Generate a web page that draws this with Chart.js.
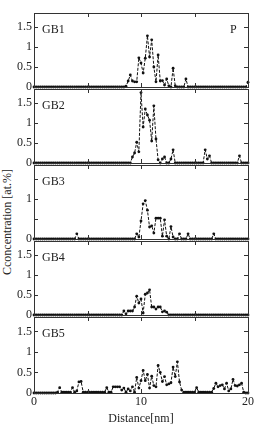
<!DOCTYPE html>
<html>
<head>
<meta charset="utf-8">
<script src="https://cdn.jsdelivr.net/npm/chart.js@4"></script>
<style>
  body { margin: 0; background: #fff; }
  #wrap { position: relative; width: 256px; height: 426px; overflow: hidden; }
  canvas { position: absolute; left: 0; }
  #ytitle {
    position: absolute; left: 7px; top: 222px;
    transform: translate(-50%, -50%) rotate(-90deg);
    font: 12px "Liberation Serif", serif; color: #222; white-space: nowrap;
  }
</style>
</head>
<body>
<div id="wrap">
  <div id="ytitle">Cconcentration [at.%]</div>
</div>
<script>
// DATA (distance step 0.2 nm, 0 .. 20 nm)
const step = 0.2;
const panelNames = ["GB1", "GB2", "GB3", "GB4", "GB5"];
const yTicksPerPanel = [
  [0, 0.5, 1, 1.5],
  [0, 0.5, 1, 1.5],
  [0, 1],
  [0, 0.5, 1, 1.5],
  [0, 0.5, 1, 1.5],
];
const xTickLabels = [0, 10, 20];

const gb1 = [
  0, 0, 0, 0, 0, 0, 0, 0, 0, 0, 0, 0, 0, 0, 0, 0, 0, 0, 0, 0,
  0, 0, 0, 0, 0, 0, 0, 0, 0, 0, 0, 0, 0, 0, 0, 0, 0, 0, 0, 0,
  0, 0, 0, 0.02, 0.15, 0.3, 0.15, 0.13, 0.13, 0.73,
  0.6, 0.35, 0.72, 1.28, 0.75, 1.18, 0.5, 0.13, 0.8, 0.15,
  0.16, 0.05, 0.2, 0.03, 0, 0.47, 0.03, 0, 0, 0,
  0, 0.2, 0, 0, 0, 0, 0, 0, 0, 0,
  0, 0, 0, 0, 0, 0, 0, 0, 0, 0, 0, 0, 0, 0, 0, 0, 0, 0, 0, 0,
  0.12,
];
const gb2 = [
  0, 0, 0, 0, 0, 0, 0, 0, 0, 0, 0, 0, 0, 0, 0, 0, 0, 0, 0, 0,
  0, 0, 0, 0, 0, 0, 0, 0, 0, 0, 0, 0, 0, 0, 0, 0, 0, 0, 0, 0,
  0, 0, 0, 0, 0, 0, 0.15, 0.25, 0.52, 0.28,
  1.76, 0.9, 1.35, 1.2, 1.07, 0.55, 1.43, 0.6, 0.08, 0,
  0.1, 0.15, 0, 0, 0.1, 0.33, 0, 0, 0, 0,
  0, 0, 0, 0, 0, 0, 0, 0, 0, 0,
  0.33, 0.1, 0.18, 0, 0, 0, 0, 0, 0, 0,
  0, 0, 0, 0, 0, 0, 0.18, 0, 0, 0,
  0,
];
const gb3 = [
  0, 0, 0, 0, 0, 0, 0, 0, 0, 0, 0, 0, 0, 0, 0, 0, 0, 0, 0, 0,
  0.13, 0, 0, 0, 0, 0, 0, 0, 0, 0, 0, 0, 0, 0, 0, 0, 0, 0, 0, 0,
  0, 0, 0, 0, 0, 0, 0, 0, 0.13, 0.05,
  0.45, 0.88, 0.96, 0.72, 0.3, 0.33, 0.15, 0.52, 0.52, 0.52,
  0.07, 0.48, 0.07, 0, 0.31, 0.05, 0, 0, 0.13, 0,
  0, 0, 0.13, 0, 0, 0, 0, 0, 0, 0,
  0, 0, 0, 0, 0.13, 0, 0, 0, 0, 0,
  0, 0, 0, 0, 0, 0, 0, 0, 0, 0,
  0,
];
const gb4 = [
  0, 0, 0, 0, 0, 0, 0, 0, 0, 0, 0, 0, 0, 0, 0, 0, 0, 0, 0, 0,
  0, 0, 0, 0, 0, 0, 0, 0, 0, 0, 0, 0, 0, 0, 0, 0, 0, 0, 0, 0,
  0, 0, 0.1, 0.03, 0.1, 0.1, 0.1, 0.2, 0.47, 0.3,
  0.4, 0.05, 0.52, 0.55, 0.63, 0.2, 0.2, 0.15, 0.2, 0.2,
  0.08, 0.1, 0.07, 0, 0, 0, 0, 0, 0, 0,
  0, 0, 0, 0, 0, 0, 0, 0, 0, 0,
  0, 0, 0, 0, 0, 0, 0, 0, 0, 0, 0, 0, 0, 0, 0, 0, 0, 0, 0, 0,
  0,
];
const gb5 = [
  0, 0, 0, 0, 0, 0, 0, 0, 0, 0, 0, 0.02, 0.13, 0.02, 0.02, 0.02, 0.02, 0.02, 0.13, 0.02,
  0.05, 0.27, 0.28, 0.02, 0.02, 0.02, 0.02, 0.02, 0.02, 0.02,
  0.02, 0.02, 0.02, 0.02, 0.13, 0.02, 0.02, 0.15, 0.15, 0.15,
  0.15, 0.07, 0.12, 0.02, 0.1, 0.05, 0.15, 0.02, 0.38, 0.12,
  0.3, 0.55, 0.3, 0.45, 0.12, 0.41, 0.18, 0.15, 0.67, 0.5,
  0.28, 0.4, 0.2, 0.22, 0.25, 0.63, 0.4, 0.76, 0.27, 0.07,
  0.02, 0.02, 0.02, 0.02, 0.02, 0.02, 0.13, 0.02, 0.02, 0.02,
  0.02, 0.02, 0.02, 0.02, 0.11, 0.24, 0.15, 0.18, 0.2, 0.1,
  0.24, 0.05, 0.1, 0.33, 0.18, 0.17, 0.2, 0.24, 0.02, 0,
  0,
];
const series = [gb1, gb2, gb3, gb4, gb5];

// LAYOUT
const panelTops = [12, 88, 164, 240, 316];
const panelH = 76;
const plotLeft = 34;
const plotRight = 248;
const yMax = 1.85;
const serif = '"Liberation Serif", "Times New Roman", serif';

// frame, inward ticks and panel labels
const framePlugin = {
  id: "frame",
  afterDraw(chart, args, opts) {
    const { ctx, chartArea: a, scales } = chart;
    ctx.save();
    ctx.strokeStyle = "#333";
    ctx.lineWidth = 1;
    ctx.strokeRect(Math.round(a.left) + 0.5, Math.round(a.top) + 0.5,
      Math.round(a.right - a.left), Math.round(a.bottom - a.top));
    ctx.beginPath();
    [5, 10, 15].forEach((v) => {
      const x = Math.round(scales.x.getPixelForValue(v)) + 0.5;
      ctx.moveTo(x, a.top); ctx.lineTo(x, a.top + 4);
      ctx.moveTo(x, a.bottom); ctx.lineTo(x, a.bottom - 4);
    });
    [0.5, 1, 1.5].forEach((v) => {
      const y = Math.round(scales.y.getPixelForValue(v)) + 0.5;
      ctx.moveTo(a.left, y); ctx.lineTo(a.left + 4, y);
      ctx.moveTo(a.right, y); ctx.lineTo(a.right - 4, y);
    });
    ctx.stroke();
    ctx.fillStyle = "#222";
    ctx.font = "12px " + serif;
    ctx.textBaseline = "alphabetic";
    ctx.fillText(opts.name, a.left + 8, a.top + 20);
    if (opts.extra) ctx.fillText(opts.extra, 230, a.top + 20);
    ctx.restore();
  },
};

const wrap = document.getElementById("wrap");

series.forEach((vals, i) => {
  const last = i === series.length - 1;
  const canvas = document.createElement("canvas");
  const pad = 3;
  const h = last ? 426 - panelTops[i] + pad : panelH + pad * 2;
  canvas.width = 256;
  canvas.height = h;
  canvas.style.top = panelTops[i] - pad + "px";
  wrap.appendChild(canvas);

  const points = vals.map((v, k) => ({ x: +(k * step).toFixed(1), y: v }));

  new Chart(canvas, {
    type: "line",
    data: {
      datasets: [
        {
          data: points,
          borderColor: "#111",
          borderWidth: 1,
          borderDash: [3, 1.5],
          pointRadius: 1.4,
          pointBackgroundColor: "#111",
          pointBorderWidth: 0,
          tension: 0,
          clip: 6,
        },
      ],
    },
    options: {
      responsive: false,
      animation: false,
      devicePixelRatio: 1,
      layout: { padding: { left: 0, right: 256 - plotRight, top: pad, bottom: last ? 0 : pad } },
      plugins: {
        legend: { display: false },
        tooltip: { enabled: false },
        frame: { name: panelNames[i], extra: i === 0 ? "P" : "" },
      },
      scales: {
        x: {
          type: "linear",
          min: 0,
          max: 20,
          display: last,
          grid: { display: false, drawTicks: false },
          border: { display: false },
          afterBuildTicks: (s) => { s.ticks = xTickLabels.map((v) => ({ value: v })); },
          afterFit: (s) => {
            s.height = last ? 426 - 393 : 0;
            s.paddingLeft = 0;
            s.paddingRight = 0;
          },
          ticks: {
            color: "#222",
            font: { family: serif, size: 12 },
            padding: 2,
            maxRotation: 0,
            callback: (v) => String(v),
          },
          title: {
            display: true,
            text: "Distance[nm]",
            color: "#222",
            font: { family: serif, size: 12 },
            padding: { top: 0, bottom: 0 },
          },
        },
        y: {
          min: 0,
          max: yMax,
          grid: { display: false, drawTicks: false },
          border: { display: false },
          afterBuildTicks: (s) => { s.ticks = yTicksPerPanel[i].map((v) => ({ value: v })); },
          afterFit: (s) => {
            s.width = plotLeft;
            s.paddingTop = 0;
            s.paddingBottom = 0;
          },
          ticks: {
            color: "#222",
            font: { family: serif, size: 12 },
            padding: 2,
            callback: (v) => String(v),
          },
        },
      },
    },
    plugins: [framePlugin],
  });
});
</script>
</body>
</html>
